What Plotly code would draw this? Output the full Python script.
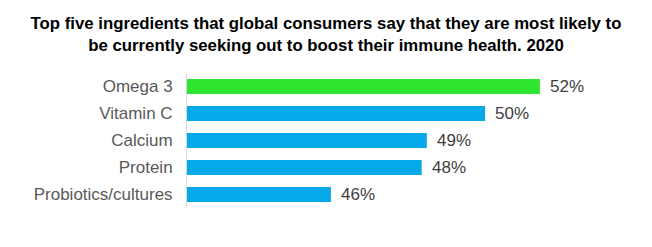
import plotly.graph_objects as go

categories = ["Omega 3", "Vitamin C", "Calcium", "Protein", "Probiotics/cultures"]
values = [51.9, 50.3, 48.6, 48.45, 45.8]
labels = ["52%", "50%", "49%", "48%", "46%"]
colors = ["#2ee62e", "#05a9ea", "#05a9ea", "#05a9ea", "#05a9ea"]

fig = go.Figure()
fig.add_trace(go.Bar(
    x=values, y=categories, orientation="h",
    marker=dict(color=colors, line=dict(width=0)),
    hoverinfo="skip",
))
for v, c, t in zip(values, categories, labels):
    fig.add_annotation(x=v, y=c, text=t, showarrow=False, xanchor="left",
                       xshift=8, font=dict(family="Liberation Sans, Arial", size=17, color="#404040"))

fig.update_layout(
    width=652, height=247,
    margin=dict(l=187, r=32, t=73, b=39),
    paper_bgcolor="white", plot_bgcolor="white",
    bargap=0.44,
    showlegend=False,
    title=dict(
        text="<b>Top five ingredients that global consumers say that they are most likely to<br>be currently seeking out to boost their immune health. 2020</b>",
        x=0.5, xanchor="center", y=1 - 29 / 247, yanchor="middle",
        font=dict(family="Liberation Sans, Arial", size=16.8, color="#000000"),
    ),
    xaxis=dict(range=[41.6, 41.6 + 433 / 34.26], visible=False, fixedrange=True),
    yaxis=dict(
        categoryorder="array", categoryarray=categories, autorange="reversed",
        showline=True, linecolor="#d9d9d9", linewidth=1,
        showgrid=False, ticks="", ticklabelstandoff=10,
        tickfont=dict(family="Liberation Sans, Arial", size=17, color="#595959"),
    ),
)

fig.write_html("out.html")
